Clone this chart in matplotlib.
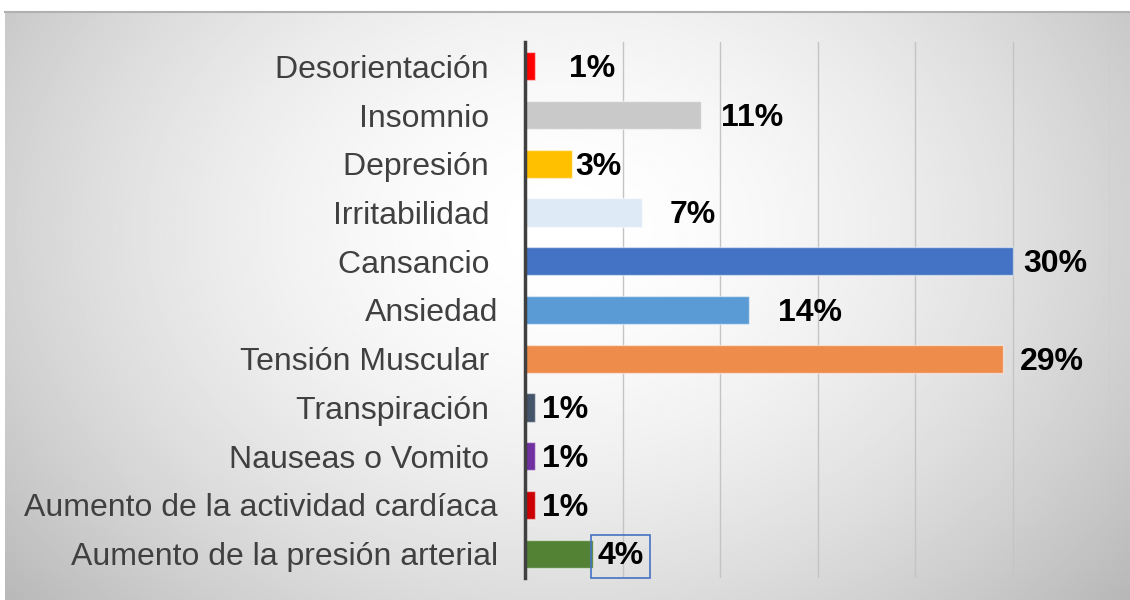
import matplotlib.pyplot as plt
import numpy as np

categorias = ["Desorientación ", "Insomnio ", "Depresión ", "Irritabilidad ",
              "Cansancio ", "Ansiedad", "Tensión Muscular ", "Transpiración ",
              "Nauseas o Vomito ", "Aumento de la actividad cardíaca",
              "Aumento de la presión arterial"]
valores = [0.6, 10.8, 2.9, 7.2, 30.0, 13.8, 29.4, 0.6, 0.6, 0.6, 4.2]
etiquetas = ["1%", "11%", "3%", "7%", "30%", "14%", "29%", "1%", "1%", "1%", "4%"]
colores = ["#ff0000", "#c9c9c9", "#ffc000", "#deebf7", "#4472c4", "#5b9bd5",
           "#ee8c4c", "#44546a", "#7030a0", "#cc0000", "#548235"]
# label offsets from bar end, in points (manual placement as in the original)
offsets = [25, 15, 2, 20, 8, 21, 12, 5, 5, 5, 3]

plt.rcParams['font.family'] = ['Liberation Sans', 'DejaVu Sans']

fig = plt.figure(figsize=(11.3, 6), dpi=100)
fig.patch.set_facecolor("white")

# gradient background panel
bg = fig.add_axes([5/1130, 0, 1125/1130, 588/600])
yy, xx = np.mgrid[0:300, 0:565]
d = np.sqrt(((xx - 280) / 330.0)**2 + ((yy - 110) / 260.0)**2)
shade = 1.0 - 0.23 * np.clip(d, 0, 1.2)**1.7
bg.imshow(shade, cmap="gray", vmin=0, vmax=1, aspect="auto", interpolation="bilinear")
bg.set_axis_off()
fig.add_artist(plt.Line2D([5/1130, 1], [588/600, 588/600], color="#b0b0b0", lw=1.5))

ax = fig.add_axes([525/1130, 22/600, 585/1130, 536/600])
ax.patch.set_alpha(0)
y = np.arange(len(categorias))
bars = ax.barh(y, valores, height=0.58, color=colores, linewidth=1, zorder=3)
for b in bars:
    b.set_edgecolor((1, 1, 1, 0.5))

ax.set_xlim(0, 36)
ax.set_ylim(len(categorias) - 0.5, -0.5)
ax.set_xticks(np.arange(0, 37, 6))
ax.xaxis.grid(True, color="#c4c4c4", lw=1, zorder=0)
ax.tick_params(axis="x", length=0, labelbottom=False)
ax.set_yticks(y)
ax.set_yticklabels(categorias, fontsize=23, color="#404040")
ax.tick_params(axis="y", length=0, pad=19.5)
for s in ["top", "right", "bottom"]:
    ax.spines[s].set_visible(False)
ax.spines["left"].set_color("#404040")
ax.spines["left"].set_linewidth(2.5)
ax.spines["left"].set_zorder(4)

for i, (v, t, o) in enumerate(zip(valores, etiquetas, offsets)):
    txt = ax.annotate(t, (v, i), xytext=(o, -2), textcoords="offset points",
                      ha="left", va="center", fontsize=23, fontweight="bold",
                      color="black", zorder=5)
    if i == len(valores) - 1:
        txt.set_bbox(dict(boxstyle="square,pad=0.2", fc="none", ec="#4472c4", lw=1.2))

fig.savefig("out.png", dpi=100)
